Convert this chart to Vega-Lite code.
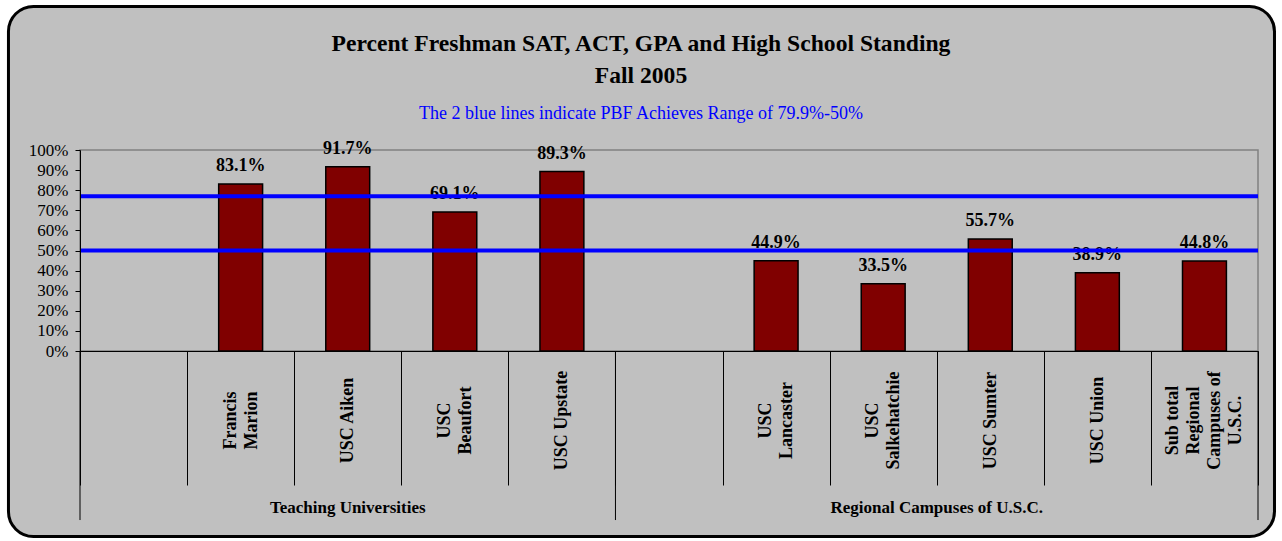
{
  "$schema": "https://vega.github.io/schema/vega-lite/v6.json",
  "width": 1178,
  "height": 201,
  "autosize": {"type": "none"},
  "padding": {"left": 80, "top": 150, "right": 24, "bottom": 190},
  "background": "white",
  "config": {"font": "Liberation Serif", "view": {"stroke": null}},
  "title": {
    "text": ["Percent Freshman SAT, ACT, GPA and High School Standing", "Fall 2005"],
    "subtitle": "The 2 blue lines indicate PBF Achieves Range of 79.9%-50%",
    "anchor": "middle",
    "dx": -28,
    "offset": -118,
    "font": "Liberation Serif",
    "fontSize": 23.6,
    "fontWeight": "bold",
    "lineHeight": 32,
    "color": "black",
    "subtitleFont": "Liberation Serif",
    "subtitleFontSize": 18,
    "subtitleColor": "#0000ff",
    "subtitlePadding": 17
  },
  "datasets": {
    "campuses": [
      {"campus": "Francis Marion", "pct": 0.831},
      {"campus": "USC Aiken", "pct": 0.917},
      {"campus": "USC Beaufort", "pct": 0.691},
      {"campus": "USC Upstate", "pct": 0.893},
      {"campus": "USC Lancaster", "pct": 0.449},
      {"campus": "USC Salkehatchie", "pct": 0.335},
      {"campus": "USC Sumter", "pct": 0.557},
      {"campus": "USC Union", "pct": 0.389},
      {"campus": "Sub total Regional Campuses of U.S.C.", "pct": 0.448}
    ],
    "ranges": [{"level": "upper", "value": 0.77}, {"level": "lower", "value": 0.5}],
    "groups": [
      {"group": "Teaching Universities", "mid": 2.5},
      {"group": "Regional Campuses of U.S.C.", "mid": 8}
    ],
    "bounds": [{"b": 0}, {"b": 5}, {"b": 11}]
  },
  "resolve": {"scale": {"x": "independent", "y": "independent"}},
  "layer": [
    {
      "layer": [
        {
          "data": {"values": [{}]},
          "mark": {"type": "rect", "fill": "#c0c0c0", "stroke": "black", "strokeWidth": 3, "cornerRadius": 25},
          "encoding": {
            "x": {"datum": -0.668, "type": "quantitative", "scale": {"domain": [0, 11], "nice": false, "zero": false}, "axis": null},
            "x2": {"datum": 11.154},
            "y": {"datum": 1.714, "type": "quantitative", "scale": {"domain": [0, 1], "nice": false}, "axis": null},
            "y2": {"datum": -0.923}
          }
        },
        {
          "data": {"values": [{}]},
          "mark": {"type": "rect", "fillOpacity": 0, "stroke": "#808080", "strokeWidth": 1.5},
          "encoding": {
            "x": {"datum": 0, "type": "quantitative", "axis": null},
            "x2": {"datum": 11},
            "y": {"datum": 0, "type": "quantitative", "axis": null},
            "y2": {"datum": 1}
          }
        },
        {
          "data": {"name": "bounds"},
          "mark": {"type": "rule", "color": "black", "strokeWidth": 1},
          "encoding": {
            "x": {"field": "b", "type": "quantitative", "axis": null},
            "y": {"datum": 0, "type": "quantitative", "axis": null},
            "y2": {"datum": -0.841}
          }
        },
        {
          "data": {"name": "groups"},
          "mark": {"type": "text", "font": "Liberation Serif", "fontWeight": "bold", "fontSize": 17, "baseline": "middle", "align": "center", "color": "black"},
          "encoding": {
            "x": {"field": "mid", "type": "quantitative", "axis": null},
            "y": {"datum": -0.781, "type": "quantitative", "axis": null},
            "text": {"field": "group"}
          }
        }
      ]
    },
    {
      "layer": [
        {
          "data": {"name": "campuses"},
          "mark": {"type": "bar", "fill": "#800000", "stroke": "black", "strokeWidth": 1.5, "width": {"band": 0.41}},
          "encoding": {
            "x": {
              "field": "campus",
              "type": "nominal",
              "sort": null,
              "scale": {
                "domain": [" ", "Francis Marion", "USC Aiken", "USC Beaufort", "USC Upstate", "  ", "USC Lancaster", "USC Salkehatchie", "USC Sumter", "USC Union", "Sub total Regional Campuses of U.S.C."],
                "paddingInner": 0,
                "paddingOuter": 0
              },
              "axis": {
                "title": null,
                "labelAngle": -90,
                "labelAlign": "center",
                "labelBaseline": "middle",
                "labelFont": "Liberation Serif",
                "labelFontWeight": "bold",
                "labelFontSize": 18,
                "labelLineHeight": 21,
                "labelColor": "black",
                "labelPadding": -65,
                "labelOverlap": false,
                "labelBound": false,
                "labelLimit": 0,
                "labelOffset": {
                  "condition": [
                    {"test": "datum.value == 'Sub total Regional Campuses of U.S.C.'", "value": -31.5},
                    {"test": "indexof(['Francis Marion', 'USC Beaufort', 'USC Lancaster', 'USC Salkehatchie'], datum.value) >= 0", "value": -10.5}
                  ],
                  "value": 0
                },
                "tickSize": 134,
                "tickBand": "extent",
                "tickColor": "black",
                "tickWidth": 1,
                "domainColor": "black",
                "domainWidth": 1,
                "zindex": 1,
                "labelExpr": "datum.label == 'Francis Marion' ? ['Francis', 'Marion'] : datum.label == 'USC Beaufort' ? ['USC', 'Beaufort'] : datum.label == 'USC Lancaster' ? ['USC', 'Lancaster'] : datum.label == 'USC Salkehatchie' ? ['USC', 'Salkehatchie'] : datum.label == 'Sub total Regional Campuses of U.S.C.' ? ['Sub total', 'Regional', 'Campuses of', 'U.S.C.'] : datum.label"
              }
            },
            "y": {
              "field": "pct",
              "type": "quantitative",
              "scale": {"domain": [0, 1], "nice": false},
              "axis": {
                "values": [0, 0.1, 0.2, 0.3, 0.4, 0.5, 0.6, 0.7, 0.8, 0.9, 1],
                "format": ".0%",
                "title": null,
                "grid": false,
                "labelFont": "Liberation Serif",
                "labelFontSize": 17,
                "labelColor": "black",
                "labelOverlap": false,
                "labelBound": false,
                "labelFlush": false,
                "tickSize": 5,
                "tickColor": "black",
                "domainColor": "black",
                "labelPadding": 7,
                "zindex": 1
              }
            }
          }
        },
        {
          "data": {"name": "campuses"},
          "mark": {"type": "text", "font": "Liberation Serif", "fontWeight": "bold", "fontSize": 18, "baseline": "alphabetic", "dy": -13, "color": "black"},
          "encoding": {
            "x": {"field": "campus", "type": "nominal", "sort": null},
            "y": {
              "field": "pct",
              "type": "quantitative",
              "axis": {
                "values": [0, 0.1, 0.2, 0.3, 0.4, 0.5, 0.6, 0.7, 0.8, 0.9, 1],
                "format": ".0%",
                "title": null,
                "grid": false,
                "labelFont": "Liberation Serif",
                "labelFontSize": 17,
                "labelColor": "black",
                "labelOverlap": false,
                "labelBound": false,
                "labelFlush": false,
                "tickSize": 5,
                "tickColor": "black",
                "domainColor": "black",
                "labelPadding": 7,
                "zindex": 1
              }
            },
            "text": {"field": "pct", "type": "quantitative", "format": ".1%"}
          }
        },
        {
          "data": {"name": "ranges"},
          "mark": {"type": "rule", "color": "#0000ff", "strokeWidth": 4},
          "encoding": {
            "y": {
              "field": "value",
              "type": "quantitative",
              "axis": {
                "values": [0, 0.1, 0.2, 0.3, 0.4, 0.5, 0.6, 0.7, 0.8, 0.9, 1],
                "format": ".0%",
                "title": null,
                "grid": false,
                "labelFont": "Liberation Serif",
                "labelFontSize": 17,
                "labelColor": "black",
                "labelOverlap": false,
                "labelBound": false,
                "labelFlush": false,
                "tickSize": 5,
                "tickColor": "black",
                "domainColor": "black",
                "labelPadding": 7,
                "zindex": 1
              }
            }
          }
        }
      ]
    }
  ]
}
